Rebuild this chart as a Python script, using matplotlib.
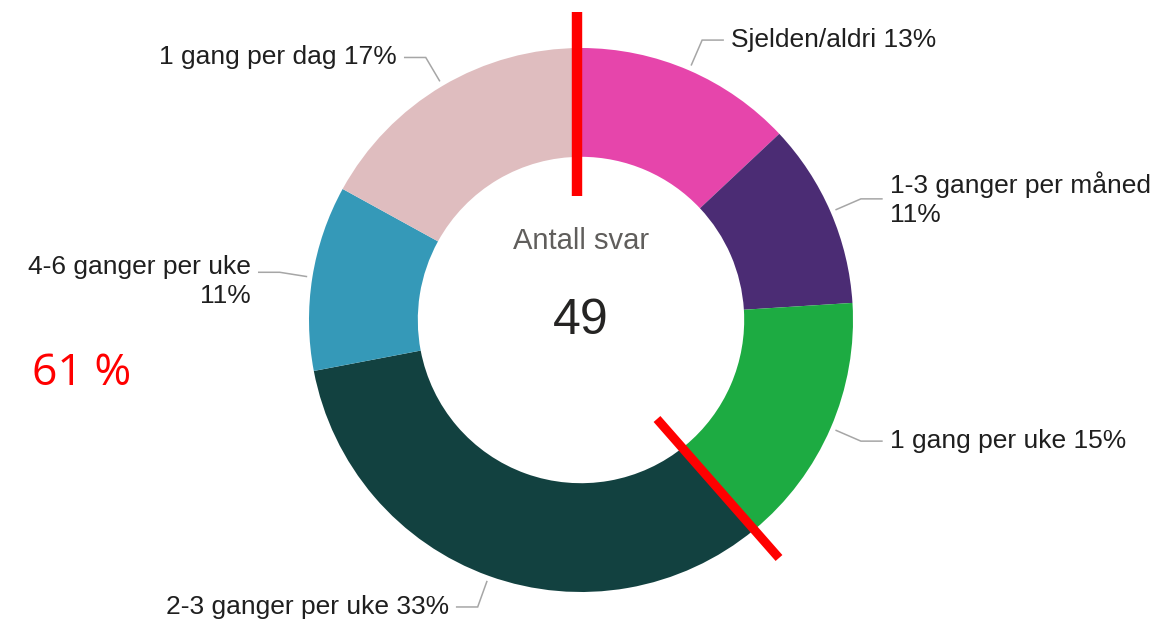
#!/usr/bin/env python
# -*- coding: utf-8 -*-

"""Donut chart: Antall svar (49), how often, with red markup overlay."""

import numpy
import matplotlib
matplotlib.use("Agg")
import matplotlib.pyplot as plt

W, H = 1169, 623

categories = ["Sjelden/aldri", "1-3 ganger per måned", "1 gang per uke",
              "2-3 ganger per uke", "4-6 ganger per uke", "1 gang per dag"]
shares = [13, 11, 15, 33, 11, 17]
label_texts = ["Sjelden/aldri 13%", "1-3 ganger per måned\n11%",
               "1 gang per uke 15%", "2-3 ganger per uke 33%",
               "4-6 ganger per uke\n11%", "1 gang per dag 17%"]
colors = ["#E645AB", "#4B2C74", "#1DAB42", "#124140", "#3599B8", "#DFBDBF"]
total_answers = 49
center_title = "Antall svar"
overlay_text = "61 %"

plt.rcParams["font.family"] = ["Liberation Sans", "DejaVu Sans"]

fig = plt.figure(figsize=(W / 100.0, H / 100.0), dpi=100)
ax = fig.add_axes([0, 0, 1, 1])

cx, cy = 581, H - 320
radius = 272
ax.pie(shares, colors=colors, startangle=90, counterclock=False,
       center=(cx, cy), radius=radius,
       wedgeprops=dict(width=0.4 * radius, linewidth=0), frame=True)
ax.set_xlim(0, W)
ax.set_ylim(0, H)
ax.set_aspect("equal")
ax.axis("off")

# leader lines and labels
cum = numpy.cumsum([0] + shares[:-1])
for i, (s, txt) in enumerate(zip(shares, label_texts)):
    mid = numpy.radians((cum[i] + s / 2.0) * 3.6)
    sx, sy = numpy.sin(mid), numpy.cos(mid)
    x0, y0 = cx + 278 * sx, cy + 278 * sy
    x1, y1 = cx + 305 * sx, cy + 305 * sy
    side = 1 if sx > 0 else -1
    x2 = x1 + side * 21
    ax.plot([x0, x1, x2], [y0, y1, y1], color="#A6A6A6", lw=1.1,
            solid_joinstyle="miter")
    ax.text(x2 + side * 8, y1 - (9 if "\n" in txt and side < 0 else 0), txt,
            ha="left" if side > 0 else "right",
            va="center", fontsize=19, color="#1F1F1F", linespacing=1.25,
            multialignment="left" if side > 0 else "right")

ax.text(cx, H - 241, center_title, ha="center", va="center", fontsize=21,
        color="#605E5C")
ax.text(cx, H - 321, str(total_answers), ha="center", va="center",
        fontsize=36, color="#252423")

# red markup
ax.plot([577, 577], [H - 12, H - 196], color="#FF0000", lw=7.5,
        solid_capstyle="butt")
ax.plot([657, 779], [H - 419, H - 558], color="#FF0000", lw=6.5,
        solid_capstyle="butt")
ax.text(32, H - 374, overlay_text, ha="left", va="center", fontsize=32,
        color="#FF0000", family=["Open Sans", "DejaVu Sans"])

fig.savefig("out.png", dpi=100)
